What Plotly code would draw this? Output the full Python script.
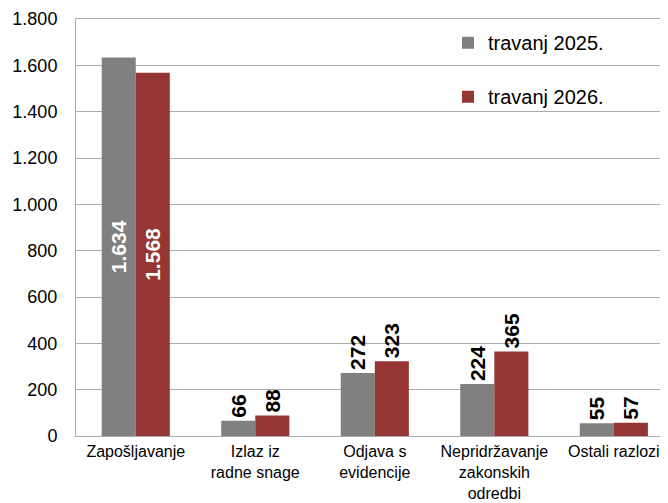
import plotly.graph_objects as go

categories = [
    "Zapošljavanje",
    "Izlaz iz<br>radne snage",
    "Odjava s<br>evidencije",
    "Nepridržavanje<br>zakonskih<br>odredbi",
    "Ostali razlozi",
]
apr_2025 = [1634, 66, 272, 224, 55]
apr_2026 = [1568, 88, 323, 365, 57]
series_names = ["travanj 2025.", "travanj 2026."]
y_ticks = [0, 200, 400, 600, 800, 1000, 1200, 1400, 1600, 1800]

GRAY = "#808080"
RED = "#963634"
GRID = "#ababab"
FONT = "Liberation Sans, Arial, sans-serif"

positions = ["inside" if v > 1000 else "outside" for v in apr_2025]

fig = go.Figure()
for name, vals, color, group in [
    (series_names[0], apr_2025, GRAY, "a"),
    (series_names[1], apr_2026, RED, "b"),
]:
    fig.add_trace(go.Bar(
        x=categories,
        y=vals,
        name=name,
        legendgroup=group,
        marker=dict(color=color, line=dict(width=0)),
        texttemplate="%{y:,.0f}",
        textposition=positions,
        textangle=-90,
        insidetextanchor="middle",
        insidetextfont=dict(color="white", size=21, family=FONT, weight="bold"),
        outsidetextfont=dict(color="black", size=21, family=FONT, weight="bold"),
        constraintext="none",
        cliponaxis=False,
    ))

# the page body adds an 8px offset, so margins are shifted to compensate
fig.update_layout(
    width=668,
    height=503,
    barmode="group",
    bargap=0.43,
    bargroupgap=0,
    separators=",.",
    plot_bgcolor="white",
    paper_bgcolor="white",
    font=dict(family=FONT, size=16, color="black"),
    margin=dict(l=68, r=0, t=11, b=75),
    legend=dict(
        x=0.62, y=0.99, xanchor="left", yanchor="top",
        font=dict(family=FONT, size=20),
        tracegroupgap=25,
        bgcolor="rgba(0,0,0,0)",
    ),
)
fig.update_xaxes(
    range=[-0.5, 4.52],
    automargin=False,
    showline=True, linecolor=GRID, linewidth=1, mirror=True,
    showgrid=False, ticks="",
    tickfont=dict(family=FONT, size=16),
    ticklabelstandoff=1,
)
fig.update_yaxes(
    range=[0, 1800],
    automargin=False,
    tickvals=y_ticks,
    tickformat=",.0f",
    showline=True, linecolor=GRID, linewidth=1,
    showgrid=True, gridcolor=GRID, gridwidth=1,
    zeroline=False, ticks="",
    tickfont=dict(family=FONT, size=18),
    ticklabelstandoff=14,
)

fig.write_html("out.html")
